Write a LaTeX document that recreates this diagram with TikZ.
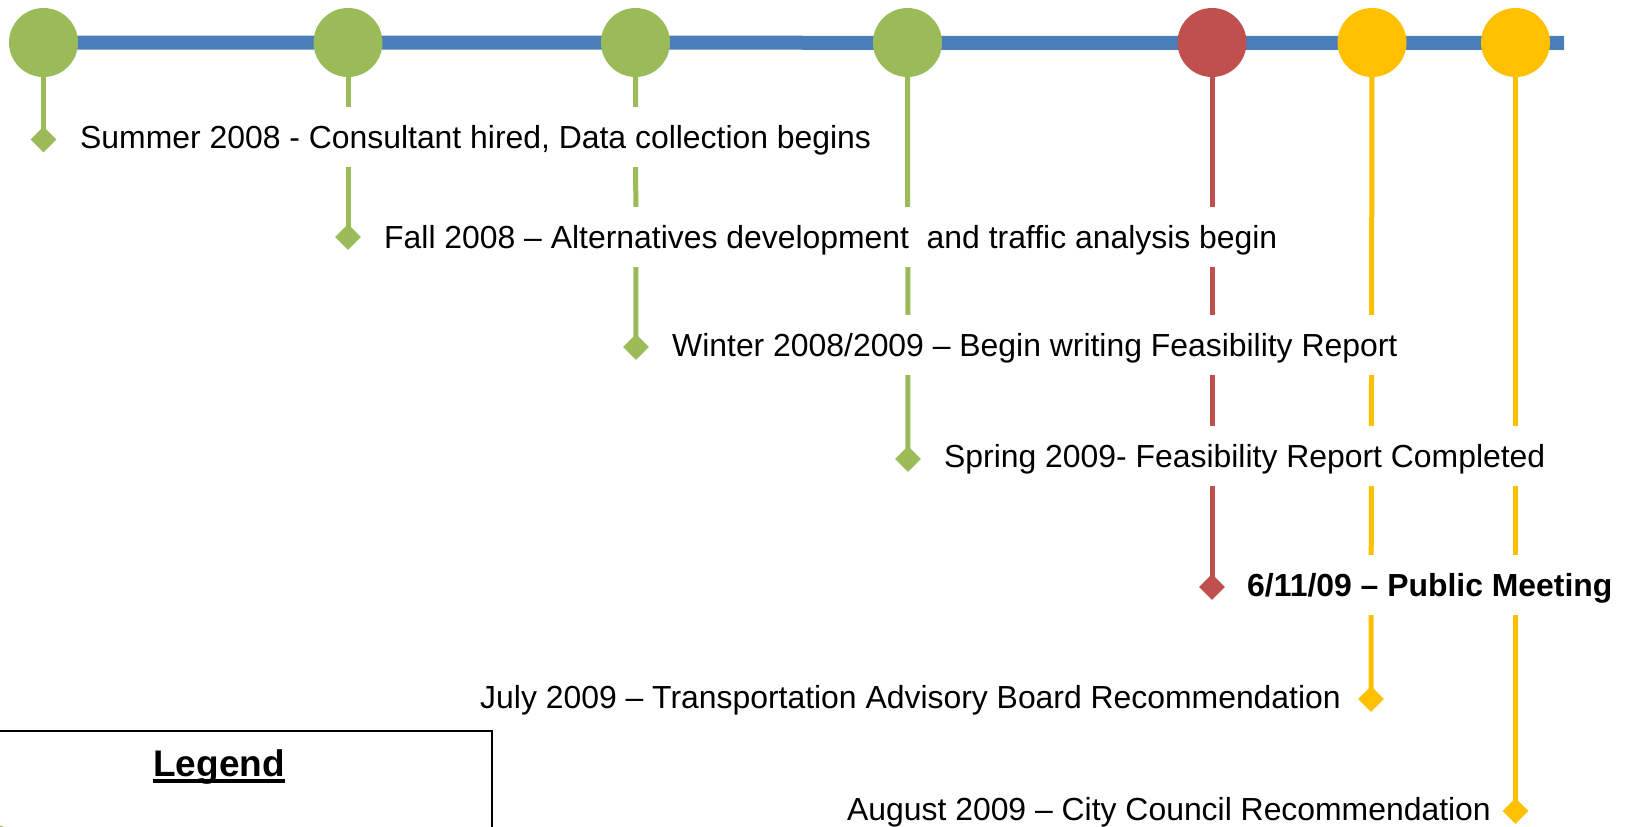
\documentclass[tikz,border=0pt]{standalone}
\usepackage{fontspec}
\setmainfont{Liberation Sans}
\usetikzlibrary{shapes.geometric}
\definecolor{tgreen}{HTML}{9BBB59}
\definecolor{tblue}{HTML}{4A7EBB}
\definecolor{tred}{HTML}{C0504D}
\definecolor{tyellow}{HTML}{FFC000}
\tikzset{
  dot/.style={circle, fill=#1, draw=none, minimum size=69pt, inner sep=0pt},
  gem/.style={diamond, fill=#1, draw=none, minimum width=26pt, minimum height=26pt, inner sep=0pt, aspect=1},
  stem/.style={draw=#1, line width=5pt},
  lbl/.style={fill=white, inner xsep=2pt, inner ysep=15pt, text height=26pt, text depth=4pt,
    font=\fontsize{31.9}{36}\selectfont},
}
\begin{document}
\begin{tikzpicture}[x=1pt, y=-1pt]
\useasboundingbox[fill=white] (0,0) rectangle (1628,827);
% coordinates of circles and diamonds
\coordinate (p1) at (43.5,42.5);
\coordinate (p2) at (348,42.5);
\coordinate (p3) at (635.5,42.5);
\coordinate (p4) at (907.5,42.5);
\coordinate (p5) at (1212,42.5);
\coordinate (p6) at (1372,42.5);
\coordinate (p7) at (1515.5,42.5);
\coordinate (lineend) at (1564,43);
% blue axis
\draw[tblue, line width=14pt] (p1) -- (lineend);
% stems
\coordinate (q1) at (43.5,139.5);
\coordinate (q2) at (348,237);
\coordinate (q3) at (636,347);
\coordinate (q4) at (908,459);
\coordinate (q5) at (1212,587);
\coordinate (q6) at (1371,699);
\coordinate (q7) at (1515.5,811);
\draw[stem=tgreen] (p1) -- (q1);
\draw[stem=tgreen] (p2) -- (q2);
\draw[stem=tgreen] (p3) -- (q3);
\draw[stem=tgreen] (p4) -- (q4);
\draw[stem=tred] (p5) -- (q5);
\draw[stem=tyellow] (p6) -- (q6);
\draw[stem=tyellow] (p7) -- (q7);
% labels
\node[lbl, anchor=base west] (t1) at (78,148) {Summer 2008 - Consultant hired, Data collection begins};
\node[lbl, anchor=base west] (t2) at (382,248) {Fall 2008 – Alternatives development\ \ and traffic analysis begin};
\node[lbl, anchor=base west] (t3) at (670,356) {Winter 2008/2009 – Begin writing Feasibility Report};
\node[lbl, anchor=base west] (t4) at (942,467) {Spring 2009- Feasibility Report Completed};
\node[lbl, anchor=base west, font=\fontsize{31.9}{36}\selectfont\bfseries] (t5) at (1245,596) {6/11/09 – Public Meeting};
\node[lbl, anchor=base east] (t6) at (1343,708) {July 2009 – Transportation Advisory Board Recommendation};
\node[lbl, anchor=base east] (t7) at (1493,820) {August 2009 – City Council Recommendation};
% diamonds
\node[gem=tgreen] (d1) at (q1) {};
\node[gem=tgreen] (d2) at (q2) {};
\node[gem=tgreen] (d3) at (q3) {};
\node[gem=tgreen] (d4) at (q4) {};
\node[gem=tred] (d5) at (q5) {};
\node[gem=tyellow] (d6) at (q6) {};
\node[gem=tyellow] (d7) at (q7) {};
% circles
\node[dot=tgreen] (c1) at (p1) {};
\node[dot=tgreen] (c2) at (p2) {};
\node[dot=tgreen] (c3) at (p3) {};
\node[dot=tgreen] (c4) at (p4) {};
\node[dot=tred] (c5) at (p5) {};
\node[dot=tyellow] (c6) at (p6) {};
\node[dot=tyellow] (c7) at (p7) {};
% legend
\begin{scope}
\clip (0,0) rectangle (1628,827);
\draw[line width=2pt, fill=white] (-10,731) rectangle (492,860);
\node[circle, fill=tgreen, minimum size=68pt, inner sep=0pt] (lg) at (-10,858) {};
\node[anchor=base, inner sep=0pt, font=\fontsize{37}{42}\selectfont\bfseries] (leg) at (219,776) {Legend};
\draw[line width=4.5pt] ([yshift=-5pt]leg.base west) -- ([yshift=-5pt]leg.base east);
\end{scope}
\end{tikzpicture}
\end{document}
